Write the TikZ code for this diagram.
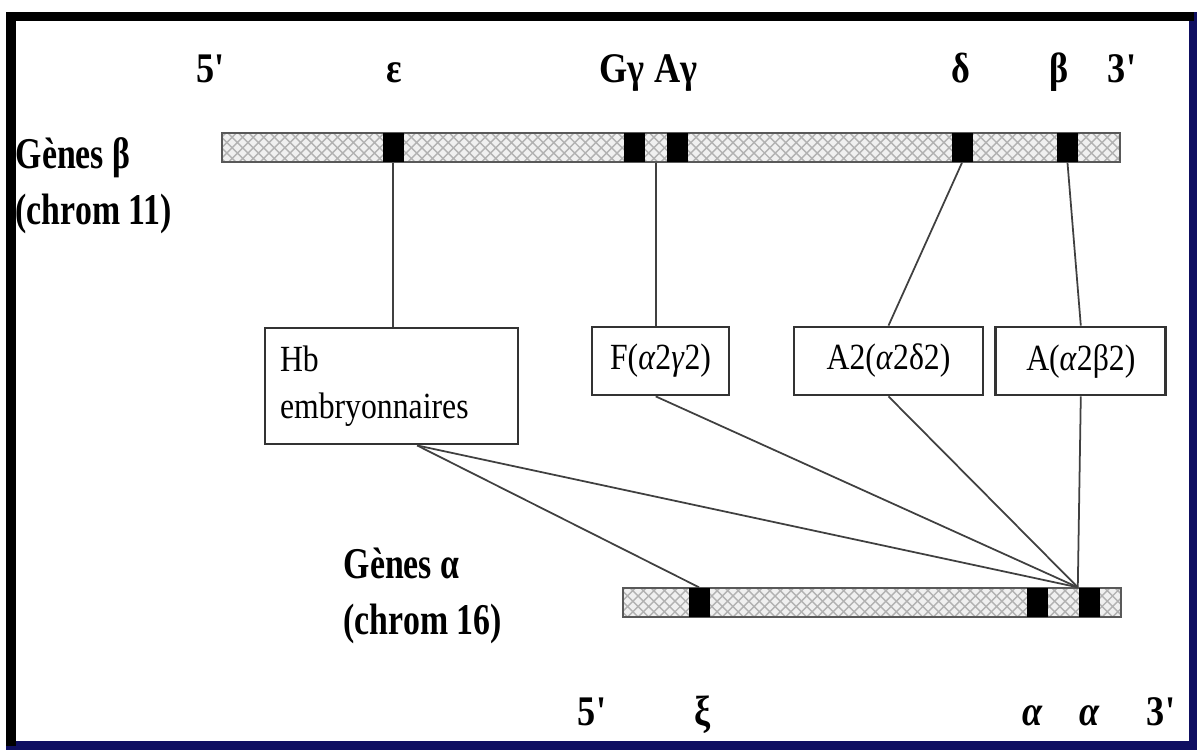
\documentclass[tikz,border=0pt]{standalone}
\usepackage{fontspec}
\setmainfont{Liberation Serif}
\newfontfamily\narrowserif[FakeStretch=0.77]{Liberation Serif}
\newfontfamily\boxserif[FakeStretch=0.86]{Liberation Serif}
\usepackage{tikz}
\usetikzlibrary{positioning, calc, patterns}
\definecolor{frameblue}{rgb}{0.06,0.06,0.38}

\begin{document}
\begin{tikzpicture}[
    chrom/.style={draw=black!65, line width=0.6pt, minimum height=0.29cm, inner sep=0pt,
        preaction={fill=gray!12}, pattern=crosshatch, pattern color=gray!60},
    gene/.style={fill=black, minimum width=0.21cm, minimum height=0.29cm, inner sep=0pt},
    hbbox/.style={draw=black!80, line width=0.8pt, font=\boxserif\fontsize{10.5}{13.5}\selectfont, inner sep=0pt},
    tag/.style={font=\boxserif\fontsize{12}{14}\selectfont\bfseries, anchor=base, inner sep=0pt},
    chromlabel/.style={font=\narrowserif\bfseries\fontsize{12.5}{16}\selectfont, align=left, anchor=west, inner sep=0pt},
    link/.style={draw=black!75, line width=0.5pt}]

    \useasboundingbox (0,0) rectangle (11.97,7.49);
    \draw[frameblue, line width=2.6pt] (0.11,0.035) rectangle (11.94,7.325);
    \draw[black, line width=2.6pt] (0.11,0.035) -- (0.11,7.325) -- (11.94,7.325);

    % beta genes, chrom 11
    \node[chrom, minimum width=8.98cm] (chrB) at (6.71,6.015) {};
    \node[gene] (eps) at (3.93,6.015) {};
    \node[gene] (Ggam) at (6.34,6.015) {};
    \node[gene] (Agam) at (6.775,6.015) {};
    \node[gene] (del) at (9.62,6.015) {};
    \node[gene] (bet) at (10.675,6.015) {};

    \node[tag] (lab5B) at (2.105,6.67) {5'};
    \node[tag] (labeps) at (3.94,6.67) {ε};
    \node[tag] (labG) at (6.22,6.67) {Gγ};
    \node[tag] (labA) at (6.76,6.67) {Aγ};
    \node[tag] (labdel) at (9.61,6.67) {δ};
    \node[tag] (labbet) at (10.59,6.67) {β};
    \node[tag] (lab3B) at (11.22,6.67) {3'};

    \node[chromlabel] (chr11) at (0.15,5.63) {Gènes β\\(chrom 11)};

    % hemoglobins
    \node[hbbox, minimum width=2.53cm, minimum height=1.16cm, text width=2.23cm, align=left] (Hb) at (3.915,3.63) {Hb\\embryonnaires};
    \node[hbbox, minimum width=1.37cm, minimum height=0.68cm] (F) at (6.605,3.88) {F(\textit{α}2\textit{γ}2)};
    \node[hbbox, minimum width=1.89cm, minimum height=0.68cm] (A2) at (8.885,3.88) {A2(\textit{α}2δ2)};
    \node[hbbox, minimum width=1.70cm, minimum height=0.68cm, right=0.1cm of A2] (A) {A(\textit{α}2β2)};

    % alpha genes, chrom 16
    \node[chrom, minimum width=4.98cm] (chrA) at (8.72,1.465) {};
    \node[gene] (xi) at (6.99,1.465) {};
    \node[gene] (alA) at (10.37,1.465) {};
    \node[gene] (alB) at (10.89,1.465) {};

    \node[chromlabel] (chr16) at (3.43,1.53) {Gènes α\\(chrom 16)};

    \node[tag] (lab5A) at (5.92,0.24) {5'};
    \node[tag] (labxi) at (7.03,0.24) {ξ};
    \node[tag] (labalA) at (10.33,0.24) {\textit{α}};
    \node[tag] (labalB) at (10.90,0.24) {\textit{α}};
    \node[tag] (lab3A) at (11.61,0.24) {3'};

    \coordinate (gam) at ($(Ggam.south)!0.5!(Agam.south)$);
    \coordinate (hbfoot) at ($(Hb.south west)!0.6!(Hb.south east)$);
    \coordinate (meet) at (alB.north west);

    \path[link]
    (eps.south) edge (eps.south |- Hb.north)
    (gam) edge (gam |- F.north)
    (del.south) edge (A2.north)
    (bet.south) edge (A.north)
    (hbfoot) edge (xi.north)
             edge (meet)
    (gam |- F.south) edge (meet)
    (A2.south) edge (meet)
    (A.south) edge (meet);

\end{tikzpicture}
\end{document}
